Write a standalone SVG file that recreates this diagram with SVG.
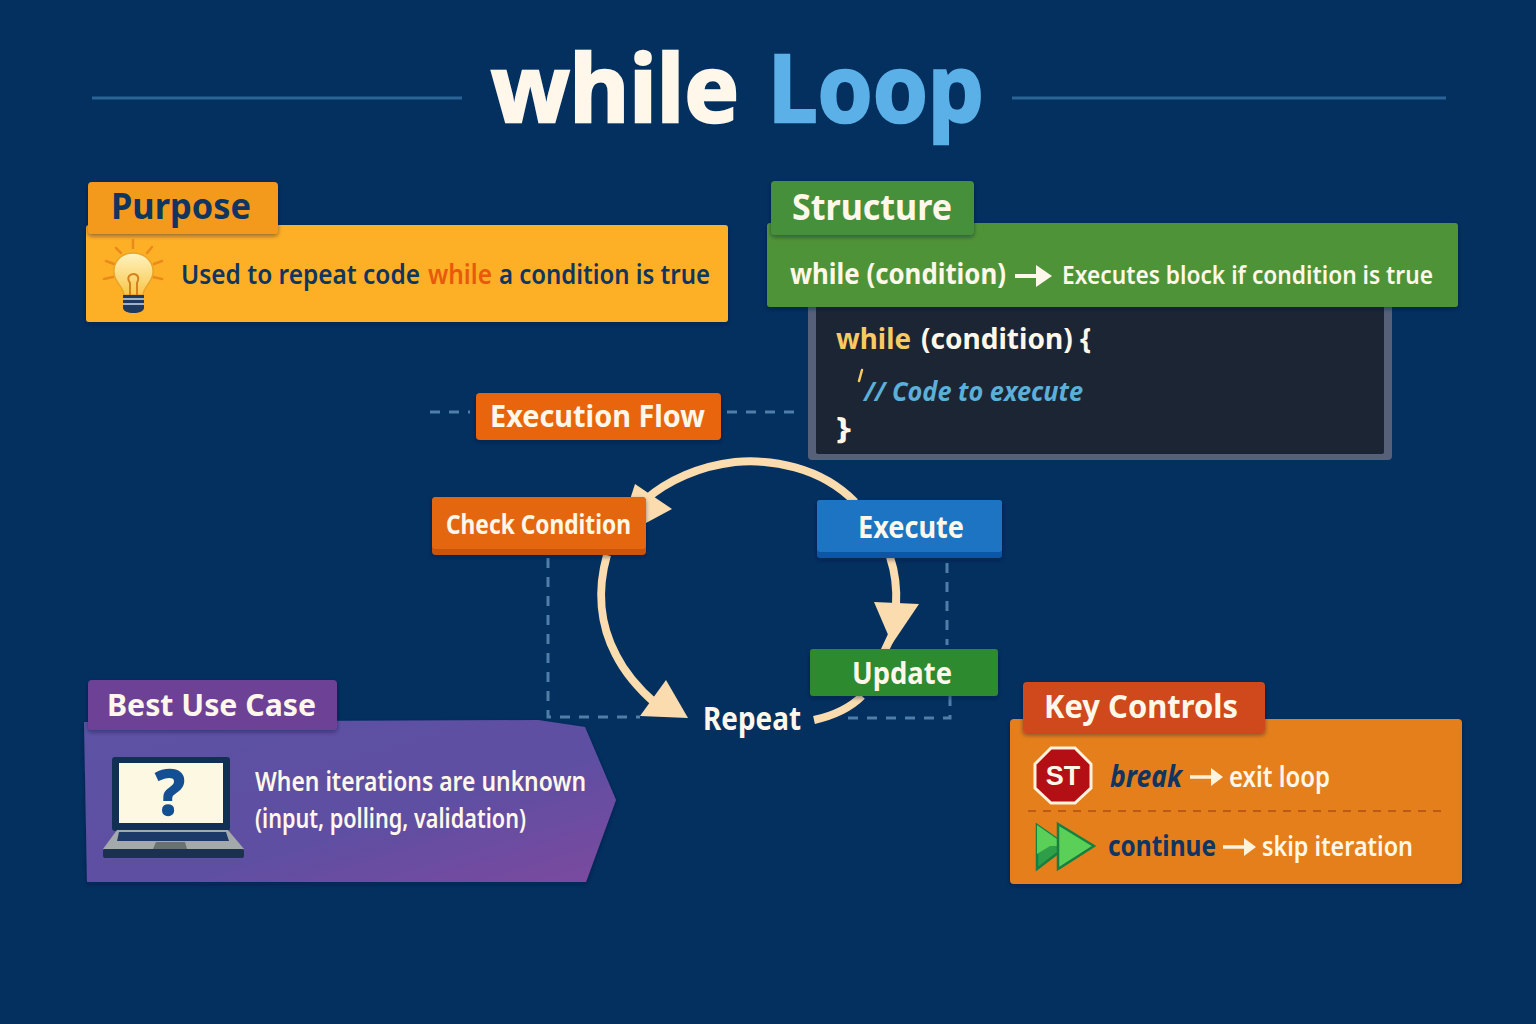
<svg xmlns="http://www.w3.org/2000/svg" width="1536" height="1024" viewBox="0 0 1536 1024">
<style>
text{font-family:"Noto Sans","Liberation Sans",sans-serif;font-weight:700}
.w{fill:#fff8ea}
.n{fill:#0f3560}
.m{font-weight:600}
.arc{fill:none;stroke:#fbdcae;stroke-width:8;stroke-linecap:butt}
.head{fill:#fbdcae}
.dash{fill:none;stroke:#4f7ea8;stroke-width:3;stroke-dasharray:10 9}
.rule{stroke:#2a6496;stroke-width:3}
.ray{stroke:#e98a1b;stroke-width:2.5;stroke-linecap:round}
</style>
<defs>
<linearGradient id="pg" x1="0" y1="0" x2="1" y2="1"><stop offset="0" stop-color="#5b52a3"/><stop offset="0.6" stop-color="#5f4fa2"/><stop offset="1" stop-color="#7c4a9e"/></linearGradient>
<linearGradient id="gl" x1="0" y1="0" x2="0" y2="1"><stop offset="0" stop-color="#fff3c0"/><stop offset="1" stop-color="#f8c64a"/></linearGradient>
<filter id="s" x="-5%" y="-10%" width="110%" height="125%"><feDropShadow dx="0" dy="2" stdDeviation="2" flood-color="#001a38" flood-opacity="0.45"/></filter>
</defs>
<rect width="1536" height="1024" fill="#03305f"/>

<g id="title">
<line class="rule" x1="92" y1="98" x2="462" y2="98"/>
<line class="rule" x1="1012" y1="98" x2="1446" y2="98"/>
<text x="491" y="122" font-size="94" fill="#fff8ea" stroke="#fff8ea" stroke-width="2.500" textLength="248" lengthAdjust="spacingAndGlyphs">while</text>
<text x="768" y="122" font-size="94" fill="#5bb0e8" stroke="#5bb0e8" stroke-width="2.500" textLength="216" lengthAdjust="spacingAndGlyphs">Loop</text>
</g>

<g id="connectors">
<path class="dash" d="M430 412H470M727 412H800"/>
<path class="dash" d="M548 558V717H640"/>
<path class="dash" d="M947 563V645M848 718H950V695"/>
<path class="arc" d="M855 502C820 466 770 459 735 462C700 466 668 480 645 500"/>
<polygon class="head" points="635,484 672,509 646,523 625,515"/>
<path class="arc" d="M607 555C597 590 600 625 616 655C626 675 640 690 656 704"/>
<polygon class="head" points="666,680 688,718 640,716"/>
<path class="arc" d="M890 557C896 575 897 590 896 606"/>
<polygon class="head" points="874,602 919,604 892,644"/>
<path class="arc" d="M892 635L884 652"/>
<path class="arc" d="M862 696C850 708 832 716 814 720"/>
</g>

<g id="purpose">
<rect x="86" y="225" width="642" height="97" rx="3" fill="#fdb027" filter="url(#s)"/>
<rect x="88" y="182" width="190" height="52" rx="4" fill="#f39a1f" filter="url(#s)"/>
<text x="111" y="219" font-size="36" class="n" textLength="140" lengthAdjust="spacingAndGlyphs">Purpose</text>
<g id="bulb">
<line class="ray" x1="133" y1="240" x2="133" y2="248"/>
<line class="ray" x1="116" y1="248" x2="121" y2="253"/>
<line class="ray" x1="152" y1="247" x2="147" y2="253"/>
<line class="ray" x1="106" y1="261" x2="114" y2="264"/>
<line class="ray" x1="162" y1="261" x2="154" y2="264"/>
<line class="ray" x1="104" y1="279" x2="113" y2="277"/>
<line class="ray" x1="162" y1="279" x2="153" y2="277"/>
<path d="M133 253C120 253 113 263 114 273C115 283 123 286 124 295H143C144 286 152 283 153 273C154 263 146 253 133 253Z" fill="url(#gl)" stroke="#e9a428" stroke-width="1.5"/>
<path d="M130 295V283C126 277 130 274 133.500 274C137 274 140 277 137 283V295" fill="none" stroke="#d3801d" stroke-width="2"/>
<path d="M123 295H144V308C144 311 139 313 133.500 313C128 313 123 311 123 308Z" fill="#1e3a5f"/>
<path d="M123 299H144M123 304H144" stroke="#9fb2c6" stroke-width="2"/>
</g>
<text x="181" y="284" font-size="27" class="n m" textLength="239" lengthAdjust="spacingAndGlyphs">Used to repeat code</text>
<text x="428" y="284" font-size="27" class="m" fill="#e8590c" textLength="64" lengthAdjust="spacingAndGlyphs">while</text>
<text x="499" y="284" font-size="27" class="n m" textLength="211" lengthAdjust="spacingAndGlyphs">a condition is true</text>
</g>

<g id="structure">
<rect x="808" y="300" width="584" height="160" rx="4" fill="#566078"/>
<rect x="816" y="300" width="568" height="154" rx="2" fill="#1b2533"/>
<rect x="767" y="223" width="691" height="84" rx="3" fill="#4f9339" filter="url(#s)"/>
<rect x="771" y="181" width="203" height="54" rx="4" fill="#46903a" filter="url(#s)"/>
<text x="792" y="220" font-size="36" class="w" textLength="160" lengthAdjust="spacingAndGlyphs">Structure</text>
<text x="790" y="284" font-size="29" class="w" textLength="216" lengthAdjust="spacingAndGlyphs">while (condition)</text>
<path d="M1015 276H1040" stroke="#fff8ea" stroke-width="4"/>
<polygon points="1036,265 1052,276 1036,287" fill="#fff8ea"/>
<text x="1062" y="284" font-size="26" class="w m" textLength="371" lengthAdjust="spacingAndGlyphs">Executes block if condition is true</text>
<text x="836" y="349" font-size="29" fill="#f6cb62" textLength="75" lengthAdjust="spacingAndGlyphs">while</text>
<text x="921" y="349" font-size="29" class="w" textLength="170" lengthAdjust="spacingAndGlyphs">(condition) {</text>
<path d="M862 370L859 381" stroke="#f6cb62" stroke-width="2.500" stroke-linecap="round"/>
<text x="864" y="401" font-size="27" fill="#5cafd9" textLength="219" lengthAdjust="spacingAndGlyphs" font-style="italic">// Code to execute</text>
<text x="836" y="439" font-size="31" class="w" textLength="15" lengthAdjust="spacingAndGlyphs">}</text>
</g>

<g id="execution-flow">
<rect x="476" y="393" width="245" height="47" rx="4" fill="#e8650e" filter="url(#s)"/>
<text x="490" y="427" font-size="30" class="w" textLength="215" lengthAdjust="spacingAndGlyphs">Execution Flow</text>
</g>

<g id="check-condition">
<rect x="432" y="497" width="214" height="58" rx="4" fill="#c9540c" filter="url(#s)"/>
<rect x="432" y="497" width="214" height="52" rx="4" fill="#e4670f"/>
<text x="446" y="534" font-size="27" class="w" textLength="185" lengthAdjust="spacingAndGlyphs">Check Condition</text>
</g>

<g id="execute">
<rect x="817" y="500" width="185" height="58" rx="3" fill="#0f56a6" filter="url(#s)"/>
<rect x="817" y="500" width="185" height="52" rx="3" fill="#1c74c2"/>
<text x="858" y="538" font-size="31" class="w" textLength="106" lengthAdjust="spacingAndGlyphs">Execute</text>
</g>

<g id="update">
<rect x="810" y="649" width="188" height="47" rx="3" fill="#2f8a2d" filter="url(#s)"/>
<text x="852" y="684" font-size="31" class="w" textLength="100" lengthAdjust="spacingAndGlyphs">Update</text>
</g>

<g id="repeat">
<text x="703" y="730" font-size="32" class="w" textLength="98" lengthAdjust="spacingAndGlyphs">Repeat</text>
</g>

<g id="best-use-case">
<polygon points="84,722 538,720 585,727 616,800 586,882 87,882" fill="url(#pg)" filter="url(#s)"/>
<rect x="88" y="680" width="249" height="50" rx="4" fill="#6d4396" filter="url(#s)"/>
<text x="107" y="716" font-size="31" class="w" textLength="209" lengthAdjust="spacingAndGlyphs">Best Use Case</text>
<g id="laptop">
<rect x="112" y="757" width="118" height="74" rx="3" fill="#123054"/>
<rect x="119" y="763" width="104" height="60" fill="#fdf8e2"/>
<text x="170" y="815" font-size="62" text-anchor="middle" fill="#134f92" stroke="#134f92" stroke-width="1.500">?</text>
<polygon points="117,830 228,830 244,849 103,849" fill="#a4a9ab"/>
<polygon points="119,832 226,832 229,841 117,841" fill="#1c3a68"/>
<polygon points="156,842 185,842 187,849 153,849" fill="#6a7175"/>
<rect x="103" y="849" width="141" height="9" rx="2" fill="#1c3050"/>
</g>
<text x="255" y="791" font-size="27" class="w m" textLength="331" lengthAdjust="spacingAndGlyphs">When iterations are unknown</text>
<text x="255" y="828" font-size="27" class="w m" textLength="271" lengthAdjust="spacingAndGlyphs">(input, polling, validation)</text>
</g>

<g id="key-controls">
<rect x="1010" y="719" width="452" height="165" rx="4" fill="#e47f1f" filter="url(#s)"/>
<rect x="1023" y="682" width="242" height="51" rx="4" fill="#cf4a1c" filter="url(#s)"/>
<text x="1044" y="718" font-size="32" class="w" textLength="194" lengthAdjust="spacingAndGlyphs">Key Controls</text>
<polygon points="1051,748 1075,748 1091,764 1091,788 1075,803 1051,803 1035,788 1035,764" fill="#b30f14" stroke="#fff3de" stroke-width="3"/>
<text x="1063" y="785" font-size="27" text-anchor="middle" class="w" style="font-family:'Liberation Sans',sans-serif">ST</text>
<text x="1110" y="787" font-size="30" class="n" font-style="italic" textLength="72" lengthAdjust="spacingAndGlyphs">break</text>
<path d="M1190 777H1213" stroke="#fff3de" stroke-width="3.500"/>
<polygon points="1211,768 1223,777 1211,786" fill="#fff3de"/>
<text x="1229" y="787" font-size="29" class="w m" textLength="101" lengthAdjust="spacingAndGlyphs">exit loop</text>
<line x1="1028" y1="811" x2="1445" y2="811" stroke="#bc5a16" stroke-width="2" stroke-dasharray="8 7"/>
<polygon points="1037,825 1067,846 1037,869" fill="#2f9e48" stroke="#15803f" stroke-width="2.500"/>
<polygon points="1037,825 1067,846 1050,846 1037,854" fill="#5bd058"/>
<polygon points="1058,824 1094,846 1058,869" fill="#5bd058" stroke="#15803f" stroke-width="2.500"/>
<text x="1108" y="856" font-size="29" class="n" textLength="108" lengthAdjust="spacingAndGlyphs">continue</text>
<path d="M1223 847H1246" stroke="#fff3de" stroke-width="3.500"/>
<polygon points="1244,838 1256,847 1244,856" fill="#fff3de"/>
<text x="1262" y="856" font-size="27" class="w m" textLength="151" lengthAdjust="spacingAndGlyphs">skip iteration</text>
</g>
</svg>
